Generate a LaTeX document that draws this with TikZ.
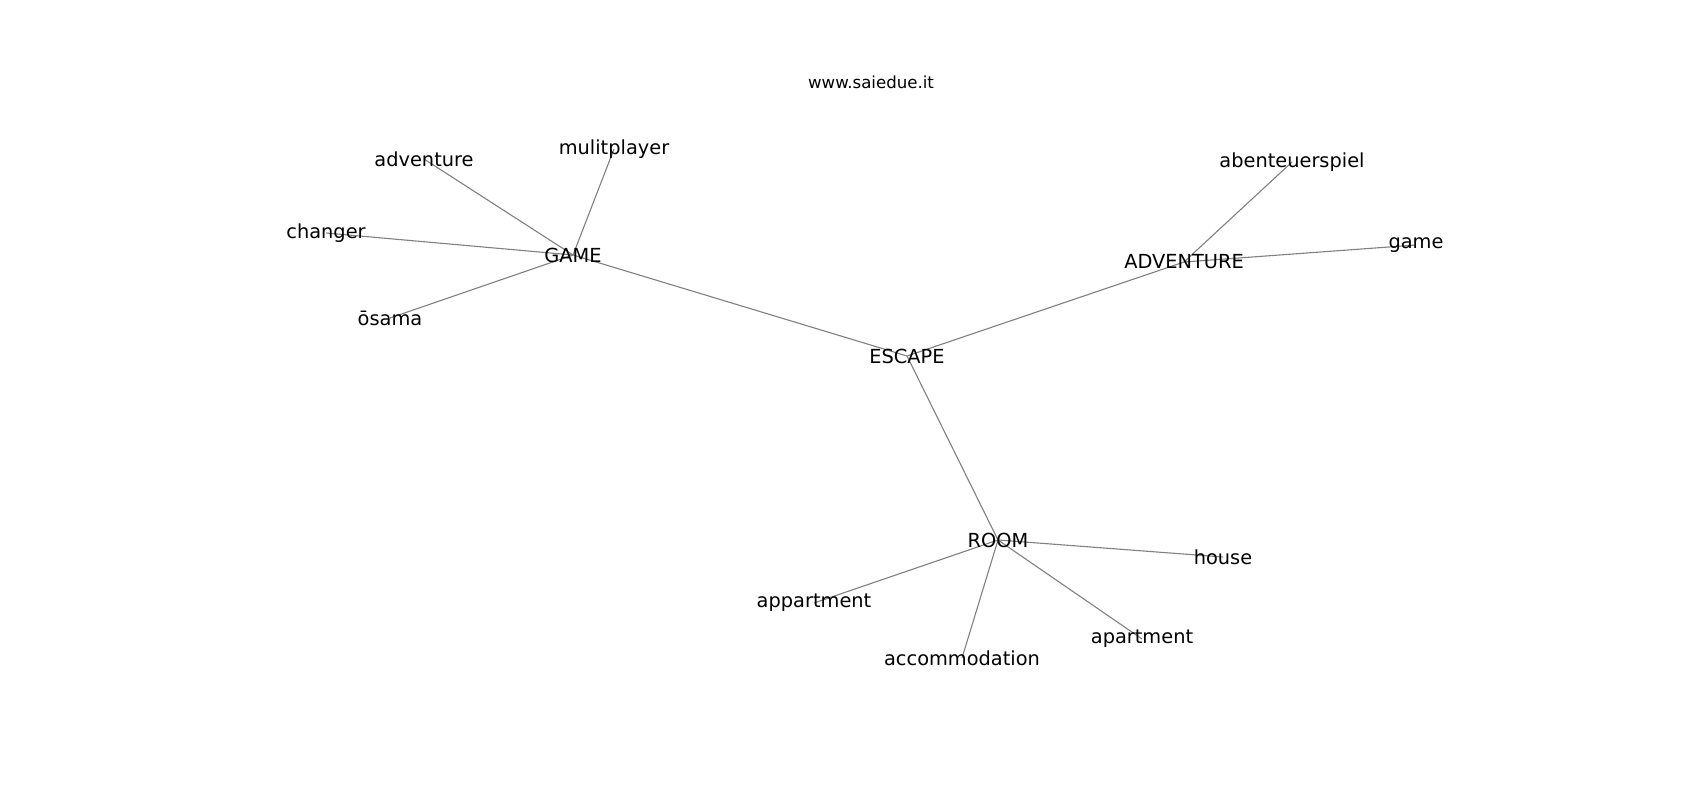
\documentclass[tikz,border=0pt]{standalone}
\usepackage{fontspec}
\setmainfont{DejaVu Sans}
\usetikzlibrary{backgrounds}
\begin{document}
\begin{tikzpicture}[x=0.0254cm, y=-0.0254cm,
  word/.style={inner sep=0pt, font=\fontsize{14}{16}\selectfont},
  link/.style={draw=gray, line width=0.8pt}]
\useasboundingbox (0,0) rectangle (1700,800);
\node[inner sep=0pt, font=\fontsize{12}{14}\selectfont] (site) at (871,82) {www.saiedue.it};
% hubs
\node[word] (escape) at (907,356) {ESCAPE};
\node[word] (game) at (573,255) {GAME};
\node[word] (adv) at (1184,262) {ADVENTURE};
\node[word] (room) at (998,540) {ROOM};
% leaves of GAME
\node[word] (adventure) at (424,159) {adventure};
\node[word] (multi) at (614,149) {mulitplayer};
\node[word] (changer) at (326,233) {changer};
\node[word] (osama) at (390,318) {ōsama};
% leaves of ADVENTURE
\node[word] (abent) at (1292,162) {abenteuerspiel};
\node[word] (gameleaf) at (1416,245) {game};
% leaves of ROOM
\node[word] (house) at (1223,557) {house};
\node[word] (appart) at (814,603) {appartment};
\node[word] (accom) at (962,658) {accommodation};
\node[word] (apart) at (1142,639) {apartment};
\begin{scope}[on background layer]
\draw[link] (escape.center) -- (game.center);
\draw[link] (escape.center) -- (adv.center);
\draw[link] (escape.center) -- (room.center);
\draw[link] (game.center) -- (adventure.center);
\draw[link] (game.center) -- (multi.center);
\draw[link] (game.center) -- (changer.center);
\draw[link] (game.center) -- (osama.center);
\draw[link] (adv.center) -- (abent.center);
\draw[link] (adv.center) -- (gameleaf.center);
\draw[link] (room.center) -- (house.center);
\draw[link] (room.center) -- (appart.center);
\draw[link] (room.center) -- (accom.center);
\draw[link] (room.center) -- (apart.center);
\end{scope}
\end{tikzpicture}
\end{document}
